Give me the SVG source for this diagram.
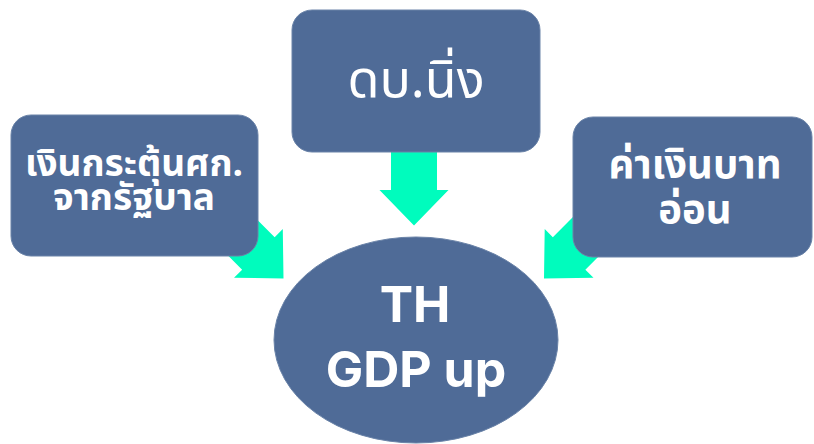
<svg xmlns="http://www.w3.org/2000/svg" width="814" height="444" viewBox="0 0 814 444">
<defs>
<style>
.box{fill:#4F6B97;stroke:#6A83A8;stroke-width:1}
.arrow{fill:#00FCBD}
.th{fill:#FFFFFF;font-family:"Noto Sans Thai","Noto Sans Thai UI","Loma","Garuda","Noto Sans","DejaVu Sans",sans-serif;text-anchor:middle}
.en{fill:#FFFFFF;font-family:"Inter","Noto Sans",sans-serif;font-weight:700;text-anchor:middle}
</style>
<polygon id="arrowShape" points="-23,-90 23,-90 23,-35.5 34.5,-35.5 0,0 -34.5,-35.5 -23,-35.5"/>
</defs>
<g id="connectors">
<use href="#arrowShape" class="arrow" transform="translate(414,225.5)"/>
<use href="#arrowShape" class="arrow" transform="translate(283.5,278.5) rotate(-45)"/>
<use href="#arrowShape" class="arrow" transform="translate(544,278.5) rotate(45)"/>
</g>
<g id="node-stimulus">
<rect class="box" x="11" y="115" width="247" height="141" rx="20"/>
<text class="th" x="134" y="176" font-size="37" font-weight="700">เงินกระตุ้นศก.</text>
<text class="th" x="134" y="210" font-size="37" font-weight="700">จากรัฐบาล</text>
</g>
<g id="node-rate">
<rect class="box" x="292" y="10" width="248" height="142" rx="20"/>
<text class="th" x="416" y="97" font-size="52">ดบ.นิ่ง</text>
</g>
<g id="node-baht">
<rect class="box" x="573" y="117" width="239" height="140" rx="20"/>
<text class="th" x="695" y="178" font-size="40" font-weight="700">ค่าเงินบาท</text>
<text class="th" x="695" y="223" font-size="40" font-weight="700">อ่อน</text>
</g>
<g id="node-gdp">
<ellipse class="box" cx="416" cy="340" rx="142" ry="103"/>
<text class="en" x="415" y="322" font-size="50">TH</text>
<text class="en" x="416" y="387" font-size="50">GDP up</text>
</g>
</svg>
